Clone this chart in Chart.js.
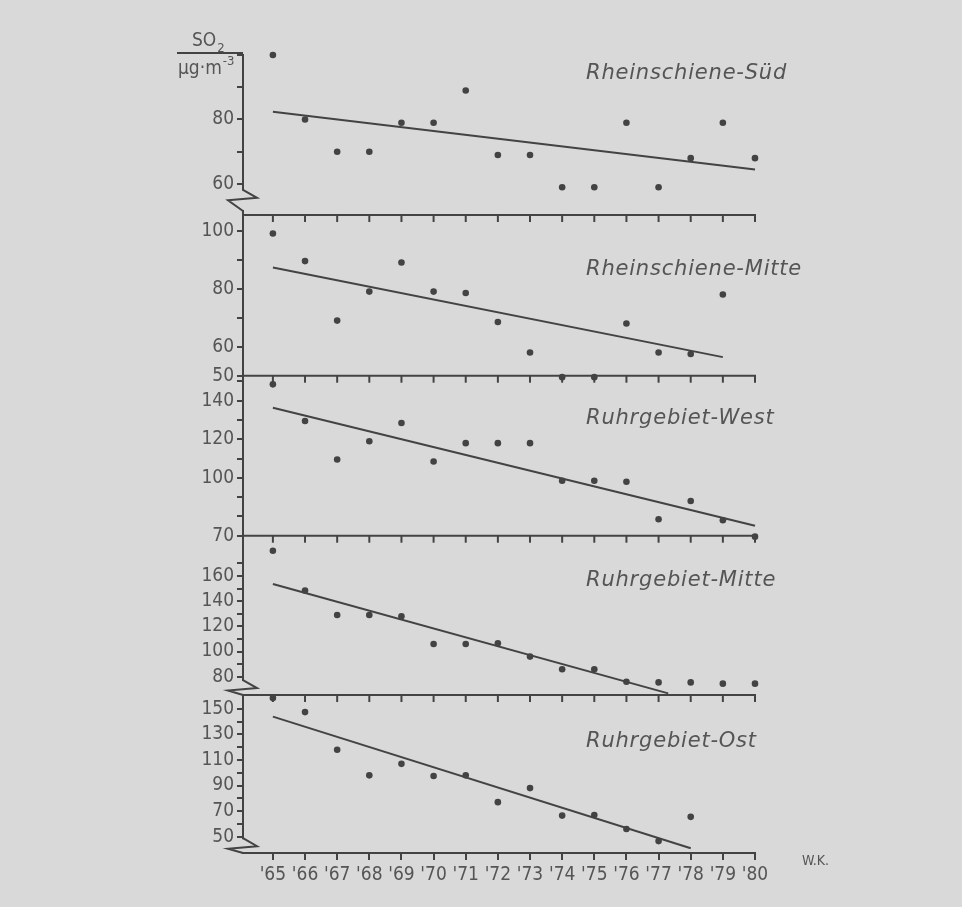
<!DOCTYPE html>
<html><head><meta charset="utf-8">
<script src="https://cdn.jsdelivr.net/npm/chart.js@4.4.1/dist/chart.umd.min.js"></script>
<style>html,body{margin:0;padding:0;background:#d9d9d9;}canvas{display:block;}</style>
</head><body>
<canvas id="c" width="962" height="907"></canvas>
<script>
// ---- data ----
const years = [1965,1966,1967,1968,1969,1970,1971,1972,1973,1974,1975,1976,1977,1978,1979,1980];
const yearLabels = ["'65","'66","'67","'68","'69","'70","'71","'72","'73","'74","'75","'76","'77","'78","'79","'80"];
const panelNames = ['Rheinschiene-Süd','Rheinschiene-Mitte','Ruhrgebiet-West','Ruhrgebiet-Mitte','Ruhrgebiet-Ost'];

const rsSued  = [100, 80, 70, 70, 79, 79, 89, 69, 69, 59, 59, 79, 59, 68, 79, 68];
const rsMitte = [99, 89.5, 69, 79, 89, 79, 78.5, 68.5, 58, 49.5, 49.5, 68, 58, 57.5, 78, null];
const rgWest  = [148.5, 129.5, 109.5, 119, 128.5, 108.5, 118, 118, 118, 98.5, 98.5, 98, 78.5, 88, 78, 69.5];
const rgMitte = [180, 148.5, 129, 129, 128, 106, 106, 106.5, 96, 86, 86, 76, 75.5, 75.5, 74.5, 74.5];
const rgOst   = [158.5, 147.5, 118, 98, 107, 97.5, 98, 77, 88, 66.5, 67, 56, 46.5, 65.5, null, null];

const rsSuedTrend  = [[1965, 82.4], [1980, 64.5]];
const rsMitteTrend = [[1965, 87.3], [1979, 56.4]];
const rgWestTrend  = [[1965, 136.4], [1980, 75.2]];
const rgMitteTrend = [[1965, 153.6], [1977.3, 66.8]];
const rgOstTrend   = [[1965, 144], [1978, 40.9]];

// tick labels and tick marks of each panel's y axis
const rsSuedLabels  = [60, 80];
const rsSuedMarks   = [60, 70, 80, 90, 100];
const rsMitteLabels = [50, 60, 80, 100];
const rsMitteMarks  = [50, 60, 70, 80, 90, 100];
const rgWestLabels  = [70, 100, 120, 140];
const rgWestMarks   = [70, 80, 90, 100, 110, 120, 130, 140, 150];
const rgMitteLabels = [80, 100, 120, 140, 160];
const rgMitteMarks  = [80, 90, 100, 110, 120, 130, 140, 150, 160, 170];
const rgOstLabels   = [50, 70, 90, 110, 130, 150];
const rgOstMarks    = [50, 60, 70, 80, 90, 100, 110, 120, 130, 140, 150];

// ---- style ----
const BG = '#d9d9d9';
const INK = '#434343';
const TXT = '#555555';
const NUMFONT = '"Liberation Sans Narrow", "DejaVu Sans Condensed", "Roboto Condensed", sans-serif';
const NAMEFONT = '"DejaVu Sans", sans-serif';
const AXIS_W = 60;

const panels = [
  {id:'yS',  vals:rsSued,  trend:rsSuedTrend,  labels:rsSuedLabels,  marks:rsSuedMarks,  min:50.37, max:100,   sw:160,   w:5, nameDy:19, brk:{from:58.2, endOff:4}},
  {id:'yM',  vals:rsMitte, trend:rsMitteTrend, labels:rsMitteLabels, marks:rsMitteMarks, min:50,    max:105.4, sw:160.7, w:4, nameDy:55},
  {id:'yW',  vals:rgWest,  trend:rgWestTrend,  labels:rgWestLabels,  marks:rgWestMarks,  min:70,    max:153,   sw:160,   w:3, nameDy:43},
  {id:'yRM', vals:rgMitte, trend:rgMitteTrend, labels:rgMitteLabels, marks:rgMitteMarks, min:65.5,  max:192,   sw:159.3, w:2, nameDy:45, brk:{from:77.4, endOff:0}},
  {id:'yO',  vals:rgOst,   trend:rgOstTrend,   labels:rgOstLabels,   marks:rgOstMarks,   min:37.2,  max:160.9, sw:158,   w:1, nameDy:47, brk:{from:48.8, endOff:0}}
];

const scales = {
  x: {
    type:'linear', position:'bottom', min:1964.07, max:1980,
    afterFit: s => { s.height = 40; },
    border:{display:true, color:INK, width:2},
    grid:{drawOnChartArea:false, drawTicks:true, tickLength:7, color:INK, lineWidth:2},
    ticks:{stepSize:1, includeBounds:false, autoSkip:false, maxRotation:0, minRotation:0, padding:4,
      color:TXT, font:{family:NUMFONT, size:19},
      callback: v => { const i = years.indexOf(v); return i >= 0 ? yearLabels[i] : null; }}
  }
};
panels.forEach(p => {
  scales[p.id] = {
    type:'linear', position:'left', stack:'panels', stackWeight:p.sw, weight:p.w,
    min:p.min, max:p.max,
    afterFit: s => { s.width = AXIS_W; },
    border:{display:true, color:INK, width:2},
    grid:{drawOnChartArea:false, drawTicks:true, tickLength:6, color:INK, lineWidth:2},
    ticks:{stepSize:10, includeBounds:false, autoSkip:false, maxTicksLimit:100, padding:3,
      color:TXT, font:{family:NUMFONT, size:19},
      callback: v => p.labels.includes(v) ? String(v) : (p.marks.includes(v) ? '' : null)}
  };
});

const datasets = [];
panels.forEach(p => {
  datasets.push({
    type:'scatter', yAxisID:p.id, xAxisID:'x',
    data: years.map((y, k) => p.vals[k] == null ? null : {x:y, y:p.vals[k]}).filter(d => d),
    pointRadius:3.3, pointBackgroundColor:INK, pointBorderWidth:0, borderWidth:0, clip:false
  });
  datasets.push({
    type:'line', yAxisID:p.id, xAxisID:'x',
    data: p.trend.map(t => ({x:t[0], y:t[1]})),
    borderColor:INK, borderWidth:2, pointRadius:0, fill:false, tension:0, clip:false
  });
});

const deco = {
  id:'deco',
  beforeDraw(chart) {
    const c = chart.ctx;
    c.save(); c.fillStyle = BG; c.fillRect(0, 0, chart.width, chart.height); c.restore();
  },
  afterDraw(chart) {
    const c = chart.ctx, ca = chart.chartArea, xs = chart.scales.x;
    const L = ca.left;
    const xEnd = xs.getPixelForValue(years[years.length - 1]);
    c.save();
    c.strokeStyle = INK; c.lineWidth = 2; c.lineCap = 'butt';
    // separators with downward ticks
    panels.slice(0, 4).forEach(p => {
      const s = chart.scales[p.id];
      const y = s.bottom;
      c.beginPath(); c.moveTo(L - 1, y); c.lineTo(xEnd + 1, y); c.stroke();
      years.forEach(yr => {
        const x = xs.getPixelForValue(yr);
        c.beginPath(); c.moveTo(x, y); c.lineTo(x, y + 7); c.stroke();
      });
    });
    // axis breaks
    panels.forEach(p => {
      if (!p.brk) return;
      const s = chart.scales[p.id];
      const ya = s.getPixelForValue(p.brk.from);
      const yd = s.bottom - p.brk.endOff;
      c.fillStyle = BG;
      c.fillRect(L - 2, ya + 1, 4, yd - ya - 2);
      c.beginPath();
      c.moveTo(L, ya); c.lineTo(L + 14, ya + 8); c.lineTo(L - 15, ya + 10.5); c.lineTo(L, yd);
      c.stroke();
    });
    // unit label
    const top = chart.scales.yS.top;
    c.beginPath(); c.moveTo(L - 66, top - 2); c.lineTo(L, top - 2); c.stroke();
    c.fillStyle = TXT; c.textAlign = 'left'; c.textBaseline = 'alphabetic';
    c.font = '19px ' + NUMFONT;
    c.fillText('SO', L - 51, top - 9);
    let w = c.measureText('SO').width;
    c.font = '13px ' + NUMFONT;
    c.fillText('2', L - 51 + w + 1, top - 3);
    c.font = '19px ' + NUMFONT;
    c.fillText('µg·m', L - 65, top + 19);
    w = c.measureText('µg·m').width;
    c.font = '13px ' + NUMFONT;
    c.fillText('-3', L - 65 + w + 1, top + 10);
    // panel names
    c.font = 'italic 21px ' + NAMEFONT;
    c.letterSpacing = '0.8px';
    c.textBaseline = 'middle';
    panels.forEach((p, i) => {
      const s = chart.scales[p.id];
      c.fillText(panelNames[i], L + 343, s.top + p.nameDy);
    });
    c.letterSpacing = '0px';
    // signature
    c.font = '14px ' + NUMFONT;
    c.fillText('W.K.', ca.right + 47, ca.bottom + 8);
    c.restore();
  }
};

new Chart(document.getElementById('c'), {
  type:'scatter',
  data:{datasets},
  options:{
    responsive:false, animation:false, devicePixelRatio:1,
    layout:{padding:{left:243 - AXIS_W, right:207, top:55, bottom:14}},
    plugins:{legend:{display:false}, tooltip:{enabled:false}},
    scales
  },
  plugins:[deco]
});
</script>
</body></html>
